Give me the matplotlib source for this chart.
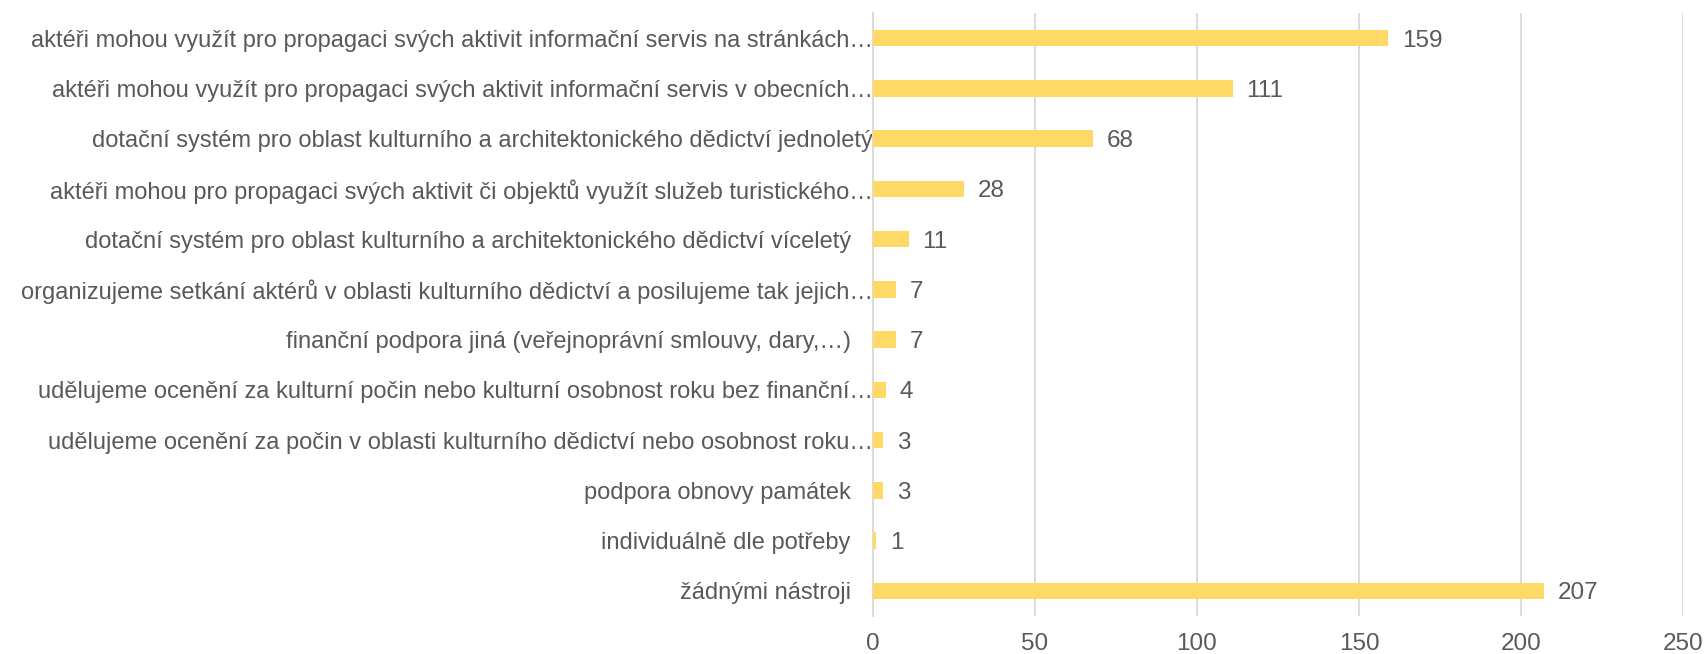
import matplotlib.pyplot as plt
import numpy as np

plt.rcParams['font.family'] = ['Liberation Sans', 'DejaVu Sans']

# categories, top to bottom as shown
labels = [
    'aktéři mohou využít pro propagaci svých aktivit informační servis na stránkách…',
    'aktéři mohou využít pro propagaci svých aktivit informační servis v obecních…',
    'dotační systém pro oblast kulturního a architektonického dědictví jednoletý',
    'aktéři mohou pro propagaci svých aktivit či objektů využít služeb turistického…',
    'dotační systém pro oblast kulturního a architektonického dědictví víceletý',
    'organizujeme setkání aktérů v oblasti kulturního dědictví a posilujeme tak jejich…',
    'finanční podpora jiná (veřejnoprávní smlouvy, dary,…)',
    'udělujeme ocenění za kulturní počin nebo kulturní osobnost roku bez finanční…',
    'udělujeme ocenění za počin v oblasti kulturního dědictví nebo osobnost roku…',
    'podpora obnovy památek',
    'individuálně dle potřeby',
    'žádnými nástroji',
]
counts = [159, 111, 68, 28, 11, 7, 7, 4, 3, 3, 1, 207]
xticks = [0, 50, 100, 150, 200, 250]

text_col = '#595959'
bar_col = '#FFD966'
fs = 17.5

my_dpi = 100
fig = plt.figure(figsize=(1706 / my_dpi, 654 / my_dpi), dpi=my_dpi)
ax = fig.add_axes([0.5117, 0.058, 0.4748, 0.922])

y = np.arange(len(labels))
ax.barh(y, counts, height=0.33, color=bar_col, zorder=3)
ax.set_ylim(len(labels) - 0.5, -0.5)
ax.set_xlim(0, 250)
ax.set_xticks(xticks)
ax.set_yticks(y)
ax.set_yticklabels(labels)
ax.grid(axis='x', color='#D9D9D9', linewidth=1.3, zorder=0)
for s in ['top', 'right', 'bottom']:
    ax.spines[s].set_visible(False)
ax.spines['left'].set_color('#D9D9D9')
ax.spines['left'].set_linewidth(1.3)
ax.tick_params(axis='both', length=0, labelsize=fs, colors=text_col)
ax.tick_params(axis='y', labelsize=17)
ax.tick_params(axis='x', pad=12)

# long (truncated) labels run up to the axis, short ones sit further left
for i, t in enumerate(ax.yaxis.get_major_ticks()):
    if labels[i].endswith('…') and not labels[i].endswith(',…)') or i == 2:
        t.set_pad(0)
    else:
        t.set_pad(16)

for yi, v in zip(y, counts):
    ax.annotate(str(v), (v, yi), xytext=(10, 0), textcoords='offset points',
                va='center_baseline', ha='left', fontsize=fs, color=text_col)

plt.savefig('out.png', dpi=my_dpi)
